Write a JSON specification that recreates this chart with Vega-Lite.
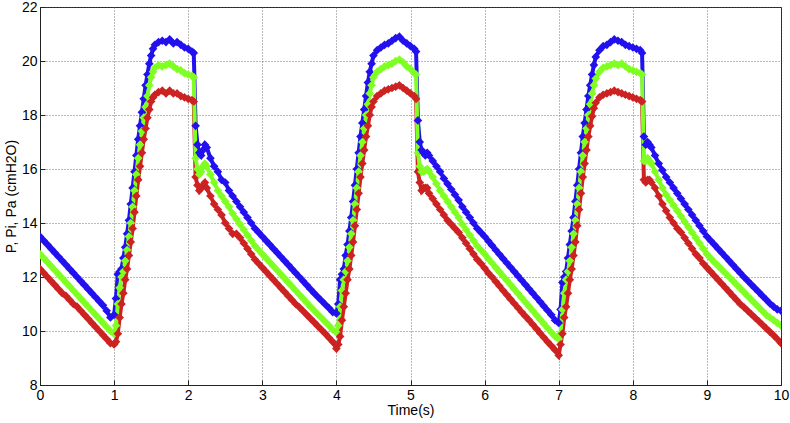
{
"$schema":"https://vega.github.io/schema/vega-lite/v6.json",
"width":741,"height":378,
"autosize":{"type":"none"},
"padding":{"left":40,"top":7,"right":9,"bottom":38},
"background":"white",
"config":{"view":{"stroke":"#222","strokeWidth":1},"font":"Liberation Sans"},
"data":{"values":[
{"t":0,"P":13.5,"Pi":12.85,"Pa":12.3},{"t":0.05,"P":13.35,"Pi":12.7,"Pa":12.15},{"t":0.1,"P":13.2,"Pi":12.55,"Pa":12.0},{"t":0.15,"P":13.05,"Pi":12.4,"Pa":11.85},{"t":0.2,"P":12.9,"Pi":12.25,"Pa":11.7},{"t":0.25,"P":12.75,"Pi":12.1,"Pa":11.55},{"t":0.3,"P":12.6,"Pi":11.95,"Pa":11.4},{"t":0.35,"P":12.45,"Pi":11.8,"Pa":11.3},{"t":0.4,"P":12.3,"Pi":11.65,"Pa":11.15},{"t":0.45,"P":12.15,"Pi":11.5,"Pa":11.0},{"t":0.5,"P":12.0,"Pi":11.35,"Pa":10.9},{"t":0.55,"P":11.85,"Pi":11.2,"Pa":10.75},{"t":0.6,"P":11.7,"Pi":11.05,"Pa":10.6},{"t":0.65,"P":11.55,"Pi":10.9,"Pa":10.45},{"t":0.7,"P":11.4,"Pi":10.75,"Pa":10.3},{"t":0.75,"P":11.25,"Pi":10.6,"Pa":10.15},{"t":0.8,"P":11.1,"Pi":10.45,"Pa":10.0},{"t":0.85,"P":10.95,"Pi":10.3,"Pa":9.85},{"t":0.9,"P":10.75,"Pi":10.15,"Pa":9.7},{"t":0.95,"P":10.5,"Pi":10.0,"Pa":9.55},{"t":1.0,"P":10.6,"Pi":9.9,"Pa":9.5},
{"t":1.025,"P":11.2,"Pi":10.2,"Pa":9.6},{"t":1.05,"P":12.1,"Pi":11.0,"Pa":9.9},{"t":1.075,"P":12.2,"Pi":11.6,"Pa":10.5},{"t":1.1,"P":12.3,"Pi":12.0,"Pa":11.0},{"t":1.125,"P":12.7,"Pi":12.2,"Pa":11.4},{"t":1.15,"P":13.1,"Pi":12.6,"Pa":11.9},{"t":1.175,"P":13.6,"Pi":13.0,"Pa":12.3},{"t":1.2,"P":14.1,"Pi":13.5,"Pa":12.8},{"t":1.225,"P":14.7,"Pi":14.0,"Pa":13.3},{"t":1.25,"P":15.3,"Pi":14.6,"Pa":13.8},{"t":1.275,"P":15.9,"Pi":15.2,"Pa":14.4},{"t":1.3,"P":16.5,"Pi":15.8,"Pa":15.0},{"t":1.325,"P":17.1,"Pi":16.4,"Pa":15.6},{"t":1.35,"P":17.6,"Pi":16.9,"Pa":16.1},{"t":1.375,"P":18.1,"Pi":17.4,"Pa":16.6},{"t":1.4,"P":18.6,"Pi":17.9,"Pa":17.1},{"t":1.425,"P":19.1,"Pi":18.3,"Pa":17.5},{"t":1.45,"P":19.5,"Pi":18.7,"Pa":17.9},{"t":1.475,"P":19.9,"Pi":19.1,"Pa":18.2},{"t":1.5,"P":20.2,"Pi":19.4,"Pa":18.5},{"t":1.525,"P":20.45,"Pi":19.6,"Pa":18.65},{"t":1.55,"P":20.6,"Pi":19.75,"Pa":18.75},{"t":1.6,"P":20.7,"Pi":19.85,"Pa":18.85},{"t":1.65,"P":20.75,"Pi":19.8,"Pa":18.9},{"t":1.7,"P":20.7,"Pi":19.85,"Pa":18.8},{"t":1.75,"P":20.8,"Pi":19.9,"Pa":18.9},{"t":1.8,"P":20.65,"Pi":19.8,"Pa":18.8},{"t":1.85,"P":20.7,"Pi":19.7,"Pa":18.8},{"t":1.9,"P":20.6,"Pi":19.65,"Pa":18.7},{"t":1.95,"P":20.5,"Pi":19.55,"Pa":18.65},{"t":2.0,"P":20.45,"Pi":19.5,"Pa":18.6},{"t":2.05,"P":20.35,"Pi":19.45,"Pa":18.55},{"t":2.075,"P":20.3,"Pi":19.4,"Pa":18.5},
{"t":2.1,"P":17.6,"Pi":16.4,"Pa":15.7},{"t":2.125,"P":16.9,"Pi":16.0,"Pa":15.4},{"t":2.15,"P":16.6,"Pi":15.8,"Pa":15.2},{"t":2.175,"P":16.5,"Pi":15.9,"Pa":15.3},{"t":2.2,"P":16.7,"Pi":16.1,"Pa":15.4},{"t":2.225,"P":16.9,"Pi":16.2,"Pa":15.5},{"t":2.25,"P":16.8,"Pi":16.1,"Pa":15.3},{"t":2.3,"P":16.4,"Pi":15.8,"Pa":15.0},{"t":2.35,"P":16.1,"Pi":15.5,"Pa":14.7},{"t":2.4,"P":15.9,"Pi":15.2,"Pa":14.5},{"t":2.45,"P":15.6,"Pi":15.0,"Pa":14.3},{"t":2.5,"P":15.5,"Pi":14.8,"Pa":14.0},{"t":2.55,"P":15.2,"Pi":14.6,"Pa":13.8},{"t":2.6,"P":15.0,"Pi":14.35,"Pa":13.6},{"t":2.65,"P":14.8,"Pi":14.15,"Pa":13.6},{"t":2.7,"P":14.6,"Pi":13.95,"Pa":13.45},{"t":2.75,"P":14.4,"Pi":13.75,"Pa":13.25},{"t":2.8,"P":14.2,"Pi":13.55,"Pa":13.05},{"t":2.85,"P":14.0,"Pi":13.35,"Pa":12.85},{"t":2.9,"P":13.8,"Pi":13.15,"Pa":12.65},{"t":2.95,"P":13.65,"Pi":13.0,"Pa":12.5},{"t":3.0,"P":13.5,"Pi":12.85,"Pa":12.35},
{"t":3.05,"P":13.35,"Pi":12.7,"Pa":12.2},{"t":3.1,"P":13.2,"Pi":12.55,"Pa":12.05},{"t":3.15,"P":13.05,"Pi":12.4,"Pa":11.9},{"t":3.2,"P":12.9,"Pi":12.25,"Pa":11.75},{"t":3.25,"P":12.75,"Pi":12.1,"Pa":11.6},{"t":3.3,"P":12.6,"Pi":11.95,"Pa":11.45},{"t":3.35,"P":12.45,"Pi":11.8,"Pa":11.3},{"t":3.4,"P":12.3,"Pi":11.65,"Pa":11.15},{"t":3.45,"P":12.15,"Pi":11.5,"Pa":11.0},{"t":3.5,"P":12.0,"Pi":11.35,"Pa":10.88},{"t":3.55,"P":11.85,"Pi":11.2,"Pa":10.74},{"t":3.6,"P":11.7,"Pi":11.05,"Pa":10.6},{"t":3.65,"P":11.55,"Pi":10.9,"Pa":10.46},{"t":3.7,"P":11.4,"Pi":10.76,"Pa":10.32},{"t":3.75,"P":11.26,"Pi":10.62,"Pa":10.18},{"t":3.8,"P":11.12,"Pi":10.48,"Pa":10.04},{"t":3.85,"P":10.98,"Pi":10.34,"Pa":9.9},{"t":3.9,"P":10.85,"Pi":10.2,"Pa":9.75},{"t":3.95,"P":10.7,"Pi":10.05,"Pa":9.6},{"t":4.0,"P":10.65,"Pi":9.95,"Pa":9.35},
{"t":4.025,"P":11.0,"Pi":10.2,"Pa":9.5},{"t":4.05,"P":11.9,"Pi":10.9,"Pa":9.8},{"t":4.075,"P":12.1,"Pi":11.5,"Pa":10.4},{"t":4.1,"P":12.3,"Pi":11.9,"Pa":10.9},{"t":4.125,"P":12.8,"Pi":12.2,"Pa":11.4},{"t":4.15,"P":13.2,"Pi":12.6,"Pa":11.9},{"t":4.175,"P":13.7,"Pi":13.1,"Pa":12.3},{"t":4.2,"P":14.2,"Pi":13.6,"Pa":12.8},{"t":4.225,"P":14.8,"Pi":14.1,"Pa":13.3},{"t":4.25,"P":15.4,"Pi":14.7,"Pa":13.9},{"t":4.275,"P":16.0,"Pi":15.3,"Pa":14.5},{"t":4.3,"P":16.6,"Pi":15.9,"Pa":15.1},{"t":4.325,"P":17.2,"Pi":16.5,"Pa":15.7},{"t":4.35,"P":17.7,"Pi":17.0,"Pa":16.2},{"t":4.375,"P":18.2,"Pi":17.5,"Pa":16.7},{"t":4.4,"P":18.7,"Pi":18.0,"Pa":17.2},{"t":4.425,"P":19.2,"Pi":18.4,"Pa":17.6},{"t":4.45,"P":19.6,"Pi":18.8,"Pa":18.0},{"t":4.475,"P":19.9,"Pi":19.1,"Pa":18.3},{"t":4.5,"P":20.2,"Pi":19.4,"Pa":18.5},{"t":4.55,"P":20.4,"Pi":19.6,"Pa":18.7},{"t":4.6,"P":20.5,"Pi":19.7,"Pa":18.8},{"t":4.65,"P":20.6,"Pi":19.8,"Pa":18.9},{"t":4.7,"P":20.65,"Pi":19.85,"Pa":18.95},{"t":4.75,"P":20.75,"Pi":19.9,"Pa":19.0},{"t":4.8,"P":20.85,"Pi":20.0,"Pa":19.05},{"t":4.85,"P":20.9,"Pi":20.05,"Pa":19.1},{"t":4.9,"P":20.75,"Pi":19.95,"Pa":19.0},{"t":4.95,"P":20.65,"Pi":19.8,"Pa":18.9},{"t":5.0,"P":20.55,"Pi":19.7,"Pa":18.8},{"t":5.05,"P":20.45,"Pi":19.55,"Pa":18.7},{"t":5.075,"P":20.35,"Pi":19.5,"Pa":18.6},
{"t":5.1,"P":17.8,"Pi":16.6,"Pa":15.9},{"t":5.125,"P":17.0,"Pi":16.1,"Pa":15.5},{"t":5.15,"P":16.7,"Pi":15.9,"Pa":15.2},{"t":5.175,"P":16.6,"Pi":15.9,"Pa":15.3},{"t":5.2,"P":16.5,"Pi":15.95,"Pa":15.3},{"t":5.225,"P":16.6,"Pi":16.0,"Pa":15.3},{"t":5.25,"P":16.5,"Pi":15.9,"Pa":15.1},{"t":5.3,"P":16.3,"Pi":15.7,"Pa":14.9},{"t":5.35,"P":16.1,"Pi":15.45,"Pa":14.7},{"t":5.4,"P":15.9,"Pi":15.2,"Pa":14.5},{"t":5.45,"P":15.65,"Pi":15.0,"Pa":14.3},{"t":5.5,"P":15.45,"Pi":14.8,"Pa":14.1},{"t":5.55,"P":15.25,"Pi":14.6,"Pa":13.95},{"t":5.6,"P":15.05,"Pi":14.4,"Pa":13.8},{"t":5.65,"P":14.85,"Pi":14.2,"Pa":13.65},{"t":5.7,"P":14.6,"Pi":13.95,"Pa":13.45},{"t":5.75,"P":14.4,"Pi":13.75,"Pa":13.25},{"t":5.8,"P":14.2,"Pi":13.55,"Pa":13.05},{"t":5.85,"P":14.0,"Pi":13.35,"Pa":12.85},{"t":5.9,"P":13.8,"Pi":13.15,"Pa":12.65},{"t":5.95,"P":13.65,"Pi":13.0,"Pa":12.5},{"t":6.0,"P":13.5,"Pi":12.85,"Pa":12.33},
{"t":6.05,"P":13.33,"Pi":12.68,"Pa":12.15},{"t":6.1,"P":13.17,"Pi":12.52,"Pa":12.0},{"t":6.15,"P":13.0,"Pi":12.35,"Pa":11.83},{"t":6.2,"P":12.84,"Pi":12.19,"Pa":11.67},{"t":6.25,"P":12.68,"Pi":12.03,"Pa":11.5},{"t":6.3,"P":12.52,"Pi":11.87,"Pa":11.34},{"t":6.35,"P":12.36,"Pi":11.71,"Pa":11.18},{"t":6.4,"P":12.2,"Pi":11.55,"Pa":11.02},{"t":6.45,"P":12.04,"Pi":11.39,"Pa":10.86},{"t":6.5,"P":11.88,"Pi":11.23,"Pa":10.7},{"t":6.55,"P":11.72,"Pi":11.07,"Pa":10.55},{"t":6.6,"P":11.56,"Pi":10.91,"Pa":10.4},{"t":6.65,"P":11.4,"Pi":10.75,"Pa":10.24},{"t":6.7,"P":11.24,"Pi":10.59,"Pa":10.08},{"t":6.75,"P":11.08,"Pi":10.43,"Pa":9.92},{"t":6.8,"P":10.92,"Pi":10.27,"Pa":9.76},{"t":6.85,"P":10.76,"Pi":10.11,"Pa":9.6},{"t":6.9,"P":10.6,"Pi":9.95,"Pa":9.45},{"t":6.95,"P":10.4,"Pi":9.8,"Pa":9.3},{"t":7.0,"P":10.3,"Pi":9.7,"Pa":9.1},
{"t":7.025,"P":10.8,"Pi":9.9,"Pa":9.5},{"t":7.05,"P":11.8,"Pi":10.8,"Pa":9.9},{"t":7.075,"P":12.0,"Pi":11.4,"Pa":10.5},{"t":7.1,"P":12.2,"Pi":11.9,"Pa":10.9},{"t":7.125,"P":12.7,"Pi":12.2,"Pa":11.4},{"t":7.15,"P":13.2,"Pi":12.6,"Pa":11.9},{"t":7.175,"P":13.7,"Pi":13.1,"Pa":12.3},{"t":7.2,"P":14.2,"Pi":13.6,"Pa":12.8},{"t":7.225,"P":14.8,"Pi":14.1,"Pa":13.3},{"t":7.25,"P":15.4,"Pi":14.7,"Pa":13.9},{"t":7.275,"P":16.0,"Pi":15.3,"Pa":14.5},{"t":7.3,"P":16.6,"Pi":15.9,"Pa":15.1},{"t":7.325,"P":17.2,"Pi":16.5,"Pa":15.7},{"t":7.35,"P":17.7,"Pi":17.0,"Pa":16.2},{"t":7.375,"P":18.2,"Pi":17.5,"Pa":16.7},{"t":7.4,"P":18.7,"Pi":18.0,"Pa":17.2},{"t":7.425,"P":19.1,"Pi":18.4,"Pa":17.6},{"t":7.45,"P":19.5,"Pi":18.8,"Pa":17.95},{"t":7.475,"P":19.85,"Pi":19.1,"Pa":18.25},{"t":7.5,"P":20.15,"Pi":19.35,"Pa":18.45},{"t":7.55,"P":20.4,"Pi":19.6,"Pa":18.65},{"t":7.6,"P":20.55,"Pi":19.75,"Pa":18.75},{"t":7.65,"P":20.6,"Pi":19.8,"Pa":18.8},{"t":7.7,"P":20.7,"Pi":19.85,"Pa":18.85},{"t":7.75,"P":20.8,"Pi":19.9,"Pa":18.9},{"t":7.8,"P":20.75,"Pi":19.85,"Pa":18.85},{"t":7.85,"P":20.7,"Pi":19.9,"Pa":18.8},{"t":7.9,"P":20.6,"Pi":19.8,"Pa":18.75},{"t":7.95,"P":20.55,"Pi":19.7,"Pa":18.7},{"t":8.0,"P":20.5,"Pi":19.65,"Pa":18.65},{"t":8.05,"P":20.45,"Pi":19.6,"Pa":18.6},{"t":8.1,"P":20.4,"Pi":19.55,"Pa":18.55},{"t":8.125,"P":20.3,"Pi":19.5,"Pa":18.5},
{"t":8.15,"P":17.2,"Pi":16.3,"Pa":15.6},{"t":8.175,"P":16.9,"Pi":16.3,"Pa":15.5},{"t":8.2,"P":17.0,"Pi":16.4,"Pa":15.6},{"t":8.225,"P":16.9,"Pi":16.3,"Pa":15.6},{"t":8.25,"P":16.8,"Pi":16.2,"Pa":15.5},{"t":8.3,"P":16.5,"Pi":15.9,"Pa":15.3},{"t":8.35,"P":16.2,"Pi":15.6,"Pa":15.0},{"t":8.4,"P":15.95,"Pi":15.3,"Pa":14.7},{"t":8.45,"P":15.7,"Pi":15.05,"Pa":14.45},{"t":8.5,"P":15.5,"Pi":14.85,"Pa":14.2},{"t":8.55,"P":15.3,"Pi":14.65,"Pa":14.0},{"t":8.6,"P":15.1,"Pi":14.45,"Pa":13.8},{"t":8.65,"P":14.9,"Pi":14.25,"Pa":13.65},{"t":8.7,"P":14.7,"Pi":14.05,"Pa":13.45},{"t":8.75,"P":14.5,"Pi":13.85,"Pa":13.25},{"t":8.8,"P":14.3,"Pi":13.65,"Pa":13.05},{"t":8.85,"P":14.1,"Pi":13.45,"Pa":12.85},{"t":8.9,"P":13.9,"Pi":13.25,"Pa":12.7},{"t":8.95,"P":13.7,"Pi":13.05,"Pa":12.5},{"t":9.0,"P":13.5,"Pi":12.85,"Pa":12.35},
{"t":9.05,"P":13.35,"Pi":12.7,"Pa":12.2},{"t":9.1,"P":13.2,"Pi":12.55,"Pa":12.05},{"t":9.15,"P":13.05,"Pi":12.42,"Pa":11.9},{"t":9.2,"P":12.9,"Pi":12.28,"Pa":11.75},{"t":9.25,"P":12.75,"Pi":12.14,"Pa":11.6},{"t":9.3,"P":12.6,"Pi":12.0,"Pa":11.45},{"t":9.35,"P":12.45,"Pi":11.86,"Pa":11.3},{"t":9.4,"P":12.3,"Pi":11.72,"Pa":11.15},{"t":9.45,"P":12.15,"Pi":11.58,"Pa":11.0},{"t":9.5,"P":12.0,"Pi":11.44,"Pa":10.88},{"t":9.55,"P":11.86,"Pi":11.3,"Pa":10.75},{"t":9.6,"P":11.72,"Pi":11.16,"Pa":10.62},{"t":9.65,"P":11.58,"Pi":11.02,"Pa":10.49},{"t":9.7,"P":11.44,"Pi":10.88,"Pa":10.36},{"t":9.75,"P":11.3,"Pi":10.74,"Pa":10.23},{"t":9.8,"P":11.16,"Pi":10.6,"Pa":10.1},{"t":9.85,"P":11.02,"Pi":10.5,"Pa":9.97},{"t":9.9,"P":10.9,"Pi":10.4,"Pa":9.84},{"t":9.95,"P":10.8,"Pi":10.3,"Pa":9.7},{"t":10.0,"P":10.75,"Pi":10.2,"Pa":9.55}
]},
"transform":[{"fold":["P","Pa","Pi"],"as":["series","value"]}],
"mark":{"type":"line","strokeWidth":4,"clip":true,"point":{"shape":"diamond","filled":true,"size":75,"opacity":1}},
"encoding":{
"x":{"field":"t","type":"quantitative","scale":{"domain":[0,10],"nice":false},
"axis":{"title":"Time(s)","values":[0,1,2,3,4,5,6,7,8,9,10],"grid":true,"gridDash":[1,2],"gridColor":"#555","gridOpacity":0.8,"domainColor":"#222","tickColor":"#222","tickSize":-5,"labelPadding":8,"labelFontSize":14,"labelColor":"#000","titleFontSize":14,"titleFontWeight":"normal","titleColor":"#000","titlePadding":1,"labelFlush":false}},
"y":{"field":"value","type":"quantitative","scale":{"domain":[8,22],"nice":false,"zero":false},
"axis":{"title":"P, Pi, Pa (cmH2O)","values":[8,10,12,14,16,18,20,22],"grid":true,"gridDash":[1,2],"gridColor":"#555","gridOpacity":0.8,"domainColor":"#222","tickColor":"#222","tickSize":-5,"labelPadding":8,"labelFontSize":14,"labelColor":"#000","titleFontSize":14,"titleFontWeight":"normal","titleColor":"#000","titlePadding":3,"labelFlush":false}},
"color":{"field":"series","type":"nominal","scale":{"domain":["P","Pi","Pa"],"range":["#2211ee","#7fff22","#cc2222"]},"legend":null}
}
}
